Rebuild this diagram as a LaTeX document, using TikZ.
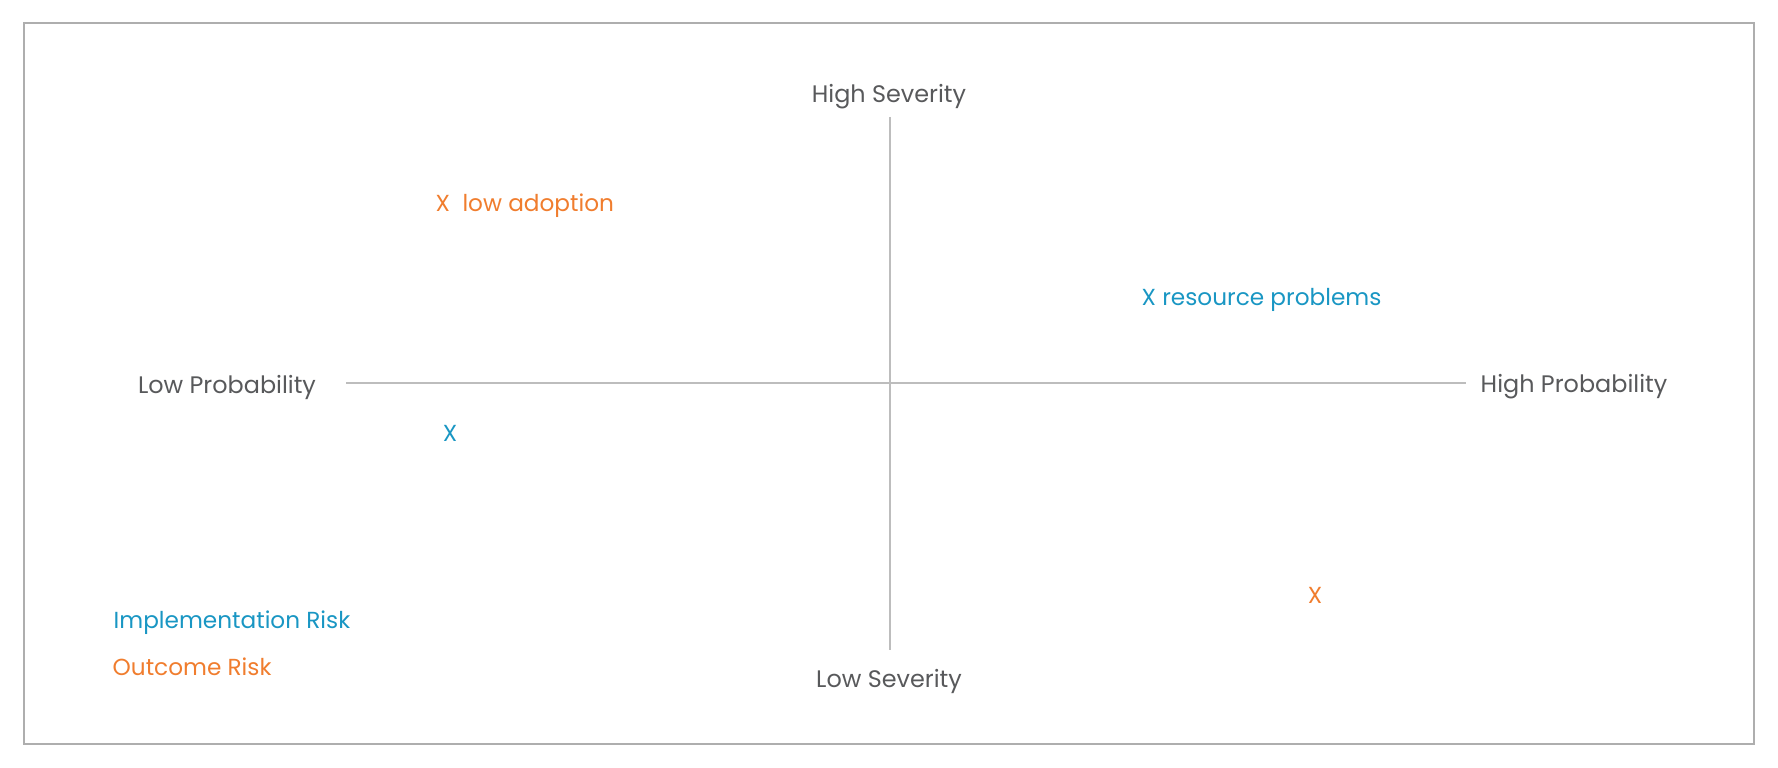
\documentclass[tikz,border=0pt]{standalone}
\usepackage{fontspec}
\setmainfont{Poppins}
\usepackage{xcolor}
\usepackage{tikz}

\definecolor{riskblue}{HTML}{1996C3}
\definecolor{riskorange}{HTML}{F07D2E}
\definecolor{labelgray}{HTML}{58595B}
\definecolor{axisgray}{HTML}{BDBDBD}
\definecolor{framegray}{HTML}{AEAEAE}

\begin{document}
\begin{tikzpicture}[
    axislabel/.style={text=labelgray, font=\fontsize{6.8}{8}\selectfont, inner sep=0pt},
    implrisk/.style={text=riskblue, font=\fontsize{6.6}{8}\selectfont, inner sep=0pt},
    outcrisk/.style={text=riskorange, font=\fontsize{6.6}{8}\selectfont, inner sep=0pt}
  ]
    \useasboundingbox (0,0) rectangle (17.78,7.68);
    % Frame
    \draw[framegray, line width=0.4pt] (0.24,0.24) rectangle (17.54,7.45);

    % Axes
    \coordinate (top) at (8.90,6.51);
    \coordinate (bottom) at (8.90,1.18);
    \coordinate (left) at (3.46,3.85);
    \coordinate (right) at (14.66,3.85);
    \draw[axisgray, line width=0.5pt] (top) -- (bottom);
    \draw[axisgray, line width=0.5pt] (left) -- (right);

    % Axis labels
    \node[axislabel] (hsev) at (8.89,6.71) {High Severity};
    \node[axislabel] (lsev) at (8.89,0.87) {Low Severity};
    \node[axislabel] (lprob) at (2.27,3.81) {Low Probability};
    \node[axislabel] (hprob) at (15.74,3.81) {High Probability};

    % Risks
    \node[outcrisk, anchor=west] (adoption) at (4.35,5.62) {X\ \ low adoption};
    \node[implrisk, anchor=west] (resource) at (11.41,4.68) {X resource problems};
    \node[implrisk] (implx) at (4.50,3.35) {X};
    \node[outcrisk] (outcx) at (13.15,1.73) {X};

    % Legend
    \node[implrisk, anchor=west] (impllegend) at (1.13,1.45) {Implementation Risk};
    \node[outcrisk, anchor=west] (outclegend) at (1.12,1.01) {Outcome Risk};
\end{tikzpicture}
\end{document}
